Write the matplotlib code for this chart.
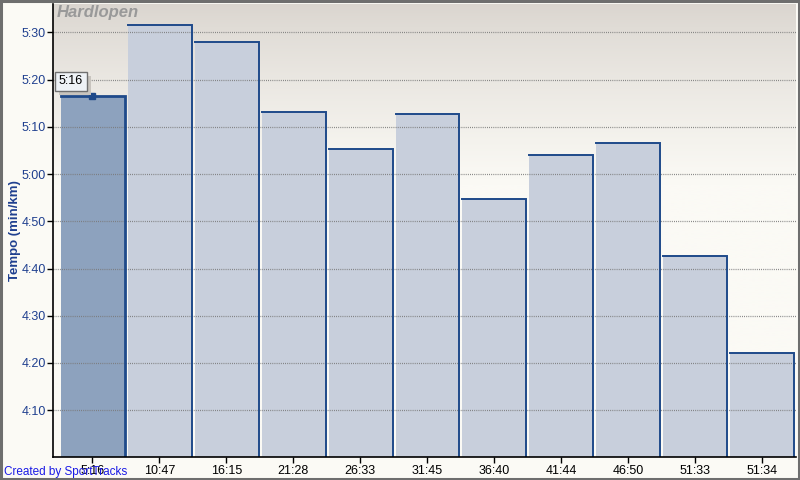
import numpy as np
import matplotlib
matplotlib.use("Agg")
import matplotlib.pyplot as plt
import matplotlib.patheffects as pe
from matplotlib.patches import Rectangle
from matplotlib.ticker import FuncFormatter, FixedLocator
from matplotlib.colors import LinearSegmentedColormap

# ---- data ----
categories = ["5:16", "10:47", "16:15", "21:28", "26:33", "31:45",
              "36:40", "41:44", "46:50", "51:33", "51:34"]
pace_sec = [316.6, 331.5, 327.9, 313.1, 305.3, 312.7,
            294.7, 304.0, 306.6, 282.7, 262.1]   # seconds per km
y_ticks = [250, 260, 270, 280, 290, 300, 310, 320, 330]
title = "Hardlopen"
ylabel = "Tempo (min/km)"
tooltip = "5:16"
credit = "Created by SportTracks"

plt.rcParams['font.family'] = ['Liberation Sans', 'DejaVu Sans']

fig = plt.figure(figsize=(8, 4.8), dpi=100)
fig.patch.set_facecolor("#FBFAF5")
ax = fig.add_axes([53/800, 1 - 457/480, (796 - 53)/800, (457 - 4)/480])
ax.set_facecolor("#FBFAF5")

ymin, ymax = 240.1, 336.0
x = np.arange(len(categories))
ax.set_xlim(-0.59, len(categories) - 0.49)
ax.set_ylim(ymin, ymax)

# gradient background (dark at top, fading to off-white)
grad = np.linspace(0, 1, 256).reshape(-1, 1)
grad = np.clip(grad / 0.40, 0, 1) ** 0.8
cmap = LinearSegmentedColormap.from_list("bg", ["#DAD5CF", "#FBFAF5"])
ax.imshow(grad, aspect="auto", cmap=cmap, extent=[0, 1, 0, 1], origin="upper",
          transform=ax.transAxes, zorder=0)

# gridlines
for t in y_ticks:
    ax.axhline(t, color="#7A7A7A", lw=0.9, ls=(0, (0.7, 1.0)), zorder=3)

# bars
w = 0.955
edge = "#1F4A8A"
for i, v in enumerate(pace_sec):
    fc = "#8DA2BE" if i == 0 else "#C8CFDC"
    ax.bar(x[i] + 0.005, v - ymin, bottom=ymin, width=w, color=fc,
           edgecolor="none", zorder=2)
    x0 = x[i] + 0.005 - w / 2
    x1 = x[i] + 0.005 + w / 2
    ax.plot([x0, x1, x1], [v, v, ymin], color=edge,
            lw=2.0 if i == 0 else 1.4, zorder=4, solid_joinstyle="miter")

# highlight marker and tooltip on first bar
ax.plot([x[0]], [pace_sec[0]], marker="s", ms=4.5, color=edge, zorder=6)
tip = ax.text(x[0] - 0.32, pace_sec[0] + 3.0, tooltip, fontsize=9, color="black",
              ha="center", va="center", zorder=7,
              bbox=dict(boxstyle="square,pad=0.3", fc="#EEF2F6", ec="#707070", lw=1))
tip.get_bbox_patch().set_path_effects([
    pe.SimplePatchShadow(offset=(3, -3), shadow_rgbFace="#C8C4BE", alpha=1.0),
    pe.Normal()])

# axes styling
for s in ["top", "right"]:
    ax.spines[s].set_visible(False)
for s in ["left", "bottom"]:
    ax.spines[s].set_color("black")
    ax.spines[s].set_linewidth(1.2)
    ax.spines[s].set_zorder(5)

ax.yaxis.set_major_locator(FixedLocator(y_ticks))
ax.yaxis.set_major_formatter(FuncFormatter(lambda v, p: f"{int(v)//60}:{int(v)%60:02d}"))
ax.tick_params(axis="y", direction="out", length=4, width=1, colors="black",
               labelcolor="#1F3F8F", labelsize=9, pad=1)
ax.set_xticks(x)
ax.set_xticklabels(categories)
ax.tick_params(axis="x", direction="out", length=4, width=1, colors="black",
               labelcolor="black", labelsize=9, pad=2)

ax.set_ylabel(ylabel, color="#1F3F8F", fontsize=9.5, fontweight="bold")
ax.yaxis.set_label_coords(-0.0425, 0.5)

ax.text(0.005, 0.997, title, transform=ax.transAxes, fontsize=12,
        fontweight="bold", fontstyle="italic", color="#999999",
        ha="left", va="top", zorder=8)

fig.text(4/800, 1 - 475/480, credit, color="#1A1AE6", fontsize=8.5,
         ha="left", va="baseline")

# figure border
fig.patches.append(Rectangle((0.0015, 0.0025), 0.997, 0.995, transform=fig.transFigure,
                             fill=False, ec="#6E6E6E", lw=2.2, zorder=10))

fig.savefig("out.png", dpi=100, facecolor=fig.get_facecolor())
